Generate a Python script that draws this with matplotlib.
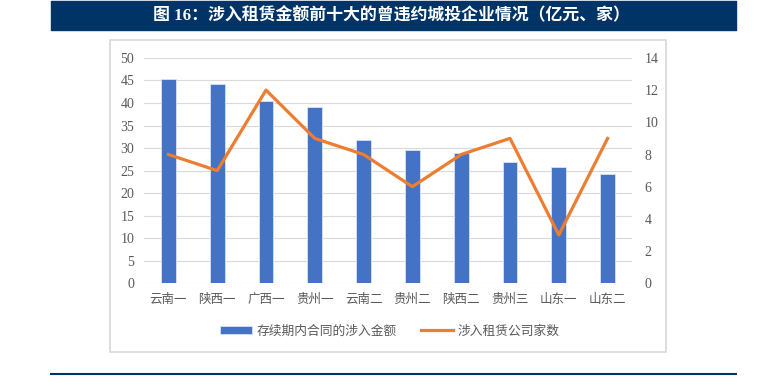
import matplotlib.pyplot as plt
from matplotlib.patches import Rectangle
from matplotlib.lines import Line2D

plt.rcParams['font.family'] = ['Noto Sans CJK SC', 'DejaVu Sans']

categories = ['云南一', '陕西一', '广西一', '贵州一', '云南二', '贵州二', '陕西二', '贵州三', '山东一', '山东二']
amount = [45.3, 44.2, 40.4, 39.0, 31.7, 29.5, 28.8, 26.9, 25.8, 24.3]
companies = [8, 7, 12, 9, 8, 6, 8, 9, 3, 9]
title = '图 16：涉入租赁金额前十大的曾违约城投企业情况（亿元、家）'

navy = '#003366'
blue = '#4472C4'
orange = '#ED7D31'
grey = '#595959'
num_font = ['Liberation Serif', 'DejaVu Serif']

fig = plt.figure(figsize=(7.58, 3.88), dpi=100)

# banner + frame
fig.patches.append(Rectangle((51 / 758, 1 - 30 / 388), 685 / 758, 29 / 388,
                             transform=fig.transFigure, color=navy, zorder=0))
fig.text(391 / 758, 1 - 16 / 388, title, color='white', fontsize=12.2, fontweight='bold',
         ha='center', va='center', family=['Liberation Serif', 'Noto Sans CJK SC'])
fig.patches.append(Rectangle((110 / 758, 1 - 352 / 388), 556 / 758, 312 / 388,
                             transform=fig.transFigure, fill=False, ec='#D9D9D9', lw=1.2, zorder=0))
fig.lines.append(Line2D([51 / 758, 736 / 758], [1 - 374 / 388] * 2, transform=fig.transFigure,
                        color=navy, lw=1.5))

ax = fig.add_axes([144 / 758, 104.7 / 388, 488 / 758, 225.4 / 388])
x = list(range(len(categories)))
bars = ax.bar(x, amount, width=0.3, color=blue, edgecolor='#DAE3F3', linewidth=0.6,
              label='存续期内合同的涉入金额', zorder=2)
ax.set_ylim(0, 50)
ax.set_yticks(range(0, 51, 5))
ax.set_xlim(-0.5, 9.5)
ax.set_xticks(x)
ax.set_xticklabels(categories, fontsize=9, color=grey)
ax.grid(axis='y', color='#D9D9D9', lw=0.8, zorder=0)
for s in ax.spines.values():
    s.set_visible(False)
ax.tick_params(length=0, pad=7)
ax.tick_params(axis='x', pad=7)
for lab in ax.get_yticklabels():
    lab.set_family(num_font)
    lab.set_fontsize(10)
    lab.set_color(grey)

ax2 = ax.twinx()
line, = ax2.plot(x, companies, color=orange, lw=2.3, label='涉入租赁公司家数', zorder=3)
ax2.set_ylim(0, 14)
ax2.set_yticks(range(0, 15, 2))
for s in ax2.spines.values():
    s.set_visible(False)
ax2.tick_params(length=0, pad=9)
for lab in ax2.get_yticklabels():
    lab.set_family(num_font)
    lab.set_fontsize(10)
    lab.set_color(grey)

fig.legend([bars, line], ['存续期内合同的涉入金额', '涉入租赁公司家数'], loc='center',
           bbox_to_anchor=(390 / 758, 1 - 331 / 388), ncol=2, frameon=False, fontsize=9.2,
           labelcolor=grey, handlelength=2.5, columnspacing=1.9, handletextpad=0.35,
           handleheight=0.6)

fig.savefig('out.png', dpi=100)
